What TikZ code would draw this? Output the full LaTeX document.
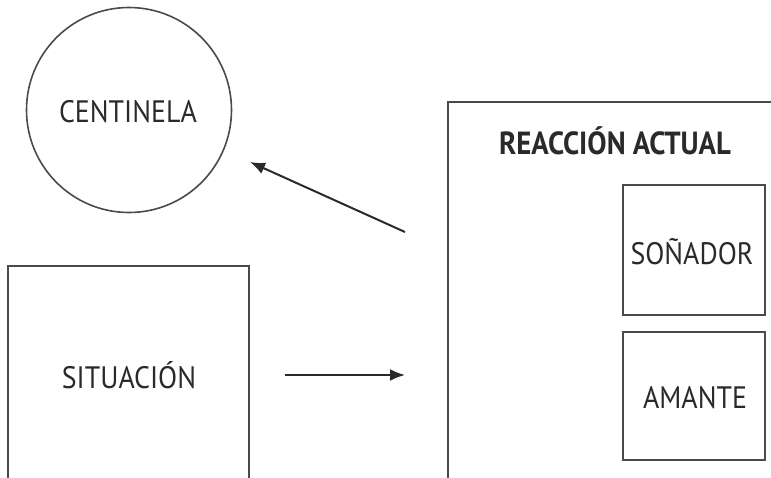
\documentclass[tikz,border=0pt]{standalone}
\usepackage{fontspec}
\setmainfont{PT Sans}[FakeStretch=0.9]
\usetikzlibrary{arrows.meta}
\definecolor{ink}{HTML}{2A2A2A}
\tikzset{
  shape line/.style={draw=ink!85, line width=1.6pt},
  label text/.style={text=ink, font=\fontsize{31}{35}\selectfont},
  link/.style={draw=ink, line width=2pt, -{Latex[length=15pt,width=12pt]}}
}
\begin{document}
\begin{tikzpicture}[x=1pt,y=-1pt]
  \useasboundingbox (0,0) rectangle (771,477);
  \clip (0,0) rectangle (771,477);
  % sentinel circle
  \node[shape line, circle, minimum size=205pt, inner sep=0pt] (cent) at (129,110) {};
  \node[label text] (centtxt) at (128,112) {CENTINELA};
  % situation box (runs off the bottom edge)
  \node[shape line, rectangle, minimum width=241pt, minimum height=220pt, inner sep=0pt] (sit) at (128.5,376) {};
  \node[label text] (sittxt) at (129,375) {SITUACIÓN};
  % current reaction frame (runs off the right and bottom edges)
  \node[shape line, rectangle, minimum width=360pt, minimum height=400pt, inner sep=0pt, anchor=north west] (react) at (447,101) {};
  \node[label text, font=\bfseries\fontsize{32}{36}\selectfont] (reacttxt) at (615,141) {REACCIÓN ACTUAL};
  % inner boxes
  \node[shape line, rectangle, minimum width=142pt, minimum height=130pt, inner sep=0pt] (son) at (694,250) {};
  \node[label text] (sontxt) at (692,252) {SOÑADOR};
  \node[shape line, rectangle, minimum width=142pt, minimum height=128pt, inner sep=0pt] (ama) at (694,396) {};
  \node[label text] (amatxt) at (695,398) {AMANTE};
  % arrows
  \coordinate (a1s) at (405,232);
  \coordinate (a1e) at (250,162);
  \coordinate (a2s) at (285,375);
  \coordinate (a2e) at (405,375);
  \draw[link] (a1s) -- (a1e);
  \draw[link] (a2s) -- (a2e);
\end{tikzpicture}
\end{document}
